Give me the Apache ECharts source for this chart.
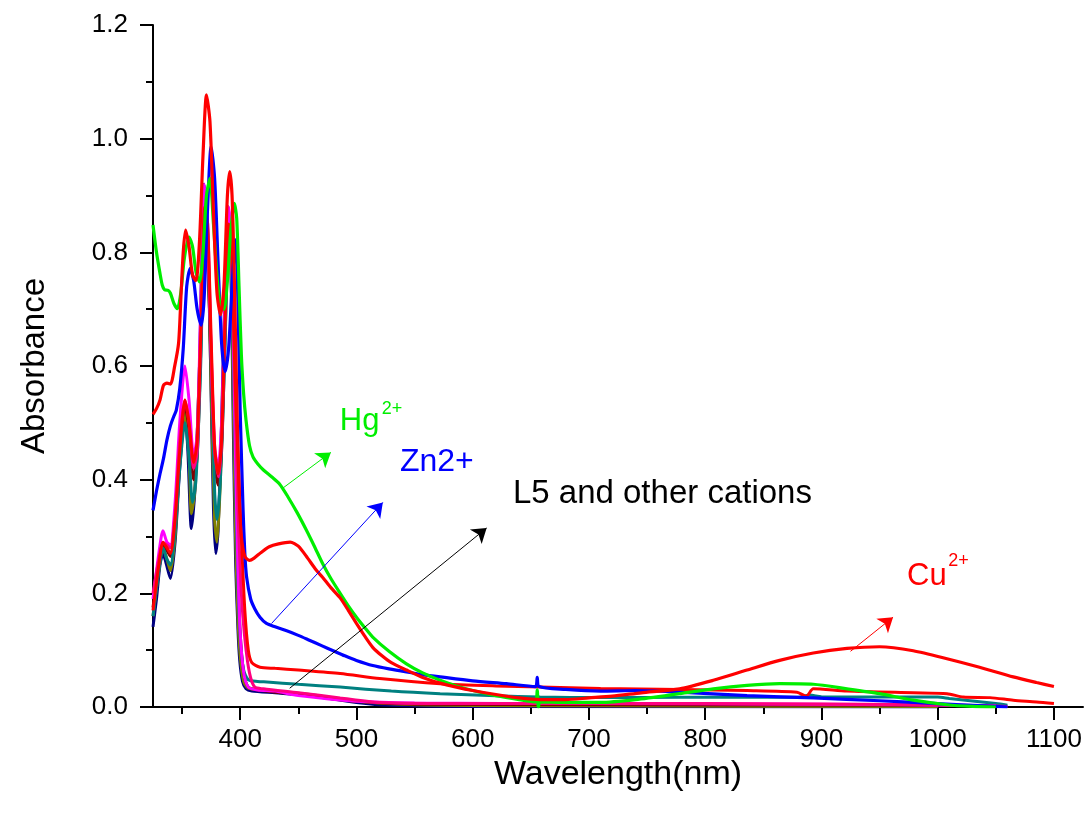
<!DOCTYPE html>
<html>
<head>
<meta charset="utf-8">
<title>Absorbance spectra</title>
<script src="https://cdn.jsdelivr.net/npm/echarts@6/dist/echarts.min.js"></script>
<style>
  html, body { margin: 0; padding: 0; background: #ffffff; }
  #chart { width: 1092px; height: 817px; }
</style>
</head>
<body>
<div id="chart"></div>
<script>
// Wavelength axis ticks (nm)
const xMajorTicks = [400, 500, 600, 700, 800, 900, 1000, 1100];
const xMinorTicks = [350, 450, 550, 650, 750, 850, 950, 1050];

// Spectra: [wavelength nm, absorbance]
const cuData = [
  [325,0.515],[328,0.525],[331,0.54],[334,0.566],[337,0.57],[340,0.568],[343.5,0.598],[347,0.64],
  [349,0.72],[351,0.8],[353,0.839],[356,0.81],[359,0.76],[362,0.75],[365,0.82],[368,0.97],
  [371,1.077],[374,1.03],[377,0.87],[380,0.73],[383,0.69],[386,0.74],[389,0.9],[391,0.942],
  [393,0.9],[395,0.75],[397,0.55],[399,0.38],[401,0.3],[404,0.265],[408,0.258],[412,0.262],
  [418,0.272],[425,0.282],[433,0.287],[443,0.29],[450,0.283],[458,0.262],[465,0.242],[471,0.228],
  [478,0.21],[486,0.192],[493,0.17],[500,0.147],[507,0.125],[514,0.105],[522,0.09],[530,0.078],
  [543,0.065],[557,0.052],[572,0.042],[586,0.035],[600,0.029],[620,0.022],[640,0.016],[658,0.013],
  [680,0.013],[700,0.016],[720,0.019],[745,0.025],[778,0.032],[807,0.047],[836,0.065],[864,0.082],
  [893,0.095],[922,0.103],[950,0.106],[979,0.099],[1008,0.085],[1036,0.07],[1065,0.053],[1085,0.043],
  [1100,0.036]
];
const hgData = [
  [325,0.848],[328,0.8],[331,0.763],[333,0.742],[335,0.734],[338,0.733],[340,0.728],[343,0.71],
  [346,0.701],[349,0.73],[352,0.79],[356,0.827],[359,0.81],[362,0.765],[365,0.748],[368,0.8],
  [371,0.9],[374,0.93],[377,0.85],[380,0.76],[383,0.705],[386,0.7],[389,0.75],[392,0.84],
  [395,0.886],[397,0.86],[399,0.74],[401,0.62],[403,0.55],[405,0.505],[408,0.46],[411,0.44],
  [415,0.428],[420,0.417],[427,0.405],[434,0.392],[441,0.37],[449,0.342],[457,0.311],[464,0.282],
  [471,0.252],[478,0.226],[486,0.2],[493,0.178],[500,0.158],[507,0.14],[514,0.123],[528,0.098],
  [543,0.076],[557,0.06],[572,0.047],[586,0.037],[600,0.029],[620,0.02],[640,0.013],[654,0.009],
  [655.5,0.03],[656.5,0.0],[658,0.009],[680,0.008],[710,0.008],[740,0.013],[778,0.0235],[807,0.032],
  [836,0.038],[864,0.041],[893,0.04],[922,0.032],[950,0.0235],[979,0.012],[1008,0.004],[1030,0.001],
  [1050,0.0]
];
const znData = [
  [325,0.346],[328,0.38],[331,0.41],[334,0.437],[337,0.47],[340,0.495],[343,0.512],[345,0.522],
  [348,0.56],[351,0.63],[354,0.74],[357,0.772],[360,0.75],[363,0.7],[366.5,0.672],[369,0.72],
  [372,0.88],[375,0.986],[378,0.93],[381,0.78],[384,0.64],[387,0.59],[390,0.63],[393,0.74],
  [396,0.822],[398,0.72],[400,0.52],[402.5,0.346],[404,0.27],[405.5,0.229],[409,0.19],[412.5,0.173],
  [417,0.158],[422.6,0.147],[430,0.141],[440,0.134],[450,0.126],[460,0.117],[470,0.108],[480,0.099],
  [490,0.09],[500,0.082],[514,0.073],[528,0.067],[543,0.0616],[557,0.057],[572,0.053],[600,0.046],
  [629,0.041],[654,0.036],[655.5,0.052],[657,0.036],[680,0.031],[710,0.028],[740,0.029],[778,0.026],
  [836,0.02],[893,0.016],[950,0.011],[1000,0.006],[1040,0.002],[1060,0.0]
];
const redData = [
  [325,0.17],[330,0.25],[333.6,0.29],[337,0.28],[340,0.27],[344,0.33],[348,0.45],[352.5,0.54],
  [356,0.5],[360,0.43],[363,0.47],[366,0.65],[369.5,0.88],[372,0.85],[375,0.65],[378,0.46],
  [381,0.41],[384,0.47],[387,0.68],[390,0.85],[392,0.84],[394,0.7],[396,0.55],[398,0.45],
  [401,0.3],[404,0.17],[407,0.1],[410,0.078],[417,0.07],[430,0.068],[450,0.065],[486,0.059],
  [520,0.05],[572,0.041],[620,0.037],[658,0.035],[710,0.0325],[778,0.031],[836,0.029],[879,0.026],
  [887,0.019],[893,0.032],[922,0.028],[979,0.025],[1008,0.0235],[1022,0.0176],[1045,0.0165],[1065,0.012],
  [1085,0.009],[1100,0.006]
];
const tealData = [
  [325,0.16],[330,0.24],[333.6,0.28],[337,0.26],[340,0.25],[344,0.31],[348,0.42],[352.5,0.5],
  [356,0.44],[359,0.36],[362,0.4],[366,0.6],[369.5,0.86],[372,0.82],[375,0.6],[378,0.38],
  [380,0.33],[383,0.4],[387,0.64],[390,0.83],[392,0.8],[394,0.62],[396,0.4],[398,0.22],
  [400,0.12],[403,0.065],[407,0.048],[415,0.045],[423,0.044],[450,0.04],[486,0.035],[530,0.028],
  [572,0.0235],[620,0.02],[658,0.0176],[710,0.0165],[778,0.017],[836,0.0176],[880,0.017],[890,0.021],
  [900,0.018],[950,0.0176],[1000,0.0176],[1010,0.015],[1030,0.0105],[1050,0.006],[1060,0.003]
];
const magentaData = [
  [325,0.19],[330,0.27],[333.6,0.31],[337,0.29],[340,0.285],[344,0.36],[348,0.5],[352.5,0.6],
  [356,0.54],[360,0.44],[363,0.48],[366,0.7],[369,0.92],[372,0.85],[375,0.63],[378,0.46],
  [381,0.42],[384,0.5],[387,0.72],[390,0.88],[392,0.84],[394,0.66],[396,0.44],[398,0.25],
  [400,0.13],[403,0.06],[407,0.035],[415,0.03],[430,0.028],[450,0.02],[500,0.01],[550,0.007],
  [700,0.006],[900,0.005],[1050,0.002]
];
const pinkData = [
  [325,0.2],[330,0.26],[333.6,0.29],[337,0.285],[340,0.28],[344,0.34],[348,0.47],[352.5,0.54],
  [356,0.5],[360,0.42],[363,0.45],[366,0.65],[369.5,0.87],[372,0.83],[375,0.62],[378,0.45],
  [381.5,0.405],[384,0.47],[387,0.68],[390,0.84],[392,0.83],[394,0.7],[396,0.52],[398,0.35],
  [401,0.2],[404,0.12],[408,0.06],[412.5,0.035],[420,0.032],[450,0.025],[486,0.016],[520,0.008],
  [600,0.006],[800,0.006],[1000,0.004],[1060,0.001]
];
const maroonData = [
  [325,0.175],[330,0.25],[333.6,0.285],[337,0.275],[340,0.265],[344,0.32],[348,0.45],[352.5,0.53],
  [356,0.49],[360,0.4],[363,0.44],[366,0.62],[369.5,0.85],[372,0.8],[375,0.6],[378,0.43],
  [381,0.39],[384,0.45],[387,0.65],[390,0.82],[392,0.8],[394,0.64],[396,0.42],[398,0.24],
  [400,0.13],[403,0.06],[407,0.035],[415,0.03],[450,0.022],[500,0.01],[550,0.005],[700,0.004],
  [1000,0.003]
];
const oliveData = [
  [325,0.16],[330,0.24],[333.6,0.28],[337,0.26],[340,0.24],[344,0.3],[348,0.43],[352.5,0.52],
  [356,0.44],[358,0.34],[361,0.38],[365,0.6],[369.5,0.88],[372,0.82],[375,0.56],[378,0.33],
  [380,0.29],[383,0.4],[387,0.68],[390,0.85],[392,0.78],[394,0.55],[396,0.3],[398,0.16],
  [400,0.09],[403,0.045],[407,0.033],[420,0.03],[460,0.022],[500,0.01],[550,0.004],[700,0.002],
  [1000,0.001]
];
const navyData = [
  [325,0.141],[328,0.19],[331,0.25],[333.6,0.27],[336,0.255],[340,0.226],[344,0.29],[348,0.42],
  [352.5,0.52],[355,0.45],[358,0.314],[361,0.38],[365,0.6],[369,0.92],[372,0.84],[375,0.55],
  [377,0.35],[379,0.27],[381,0.31],[384,0.5],[387,0.74],[390,0.88],[392,0.78],[394,0.5],
  [396,0.26],[398,0.14],[399.6,0.082],[402,0.045],[405,0.032],[410,0.028],[430,0.025],[460,0.02],
  [500,0.008],[530,0.003],[600,0.001],[1000,0.0]
];

// Arrows pointing at the labels, in data coordinates: [from, to]
const hgArrow = [[436.6, 0.385], [478, 0.448]];
const znArrow = [[427, 0.147], [522.7, 0.36]];
const l5Arrow = [[442.6, 0.033], [612, 0.315]];
const cuArrow = [[925, 0.098], [961.6, 0.158]];

// Annotation texts: anchor is left / vertical middle, in data coordinates
const notes = [
  { text: 'Hg', at: [485.7, 0.503], color: '#00ee00', size: 31 },
  { text: '2+', at: [521.8, 0.525], color: '#00ee00', size: 18 },
  { text: 'Zn2+', at: [537.4, 0.431], color: '#0000ff', size: 32 },
  { text: 'L5 and other cations', at: [634.6, 0.3745], color: '#000000', size: 33 },
  { text: 'Cu', at: [973.7, 0.23], color: '#ff0000', size: 31 },
  { text: '2+', at: [1009, 0.2565], color: '#ff0000', size: 18 }
];

const FONT = "'Liberation Sans', Arial, Helvetica, sans-serif";

function spectrum(name, data, color, z, width) {
  return {
    name: name,
    type: 'line',
    data: data,
    showSymbol: false,
    symbol: 'none',
    smooth: 0.25,
    z: z,
    lineStyle: { color: color, width: width },
    itemStyle: { color: color },
    emphasis: { disabled: true }
  };
}

function arrowLine(pair, color) {
  return [
    { coord: pair[0], lineStyle: { color: color, width: 1, type: 'solid' } },
    { coord: pair[1] }
  ];
}

const chart = echarts.init(document.getElementById('chart'), null, { renderer: 'canvas' });

const option = {
  animation: false,
  backgroundColor: '#ffffff',
  textStyle: { fontFamily: FONT },
  grid: { left: 153, right: 9, top: 25, bottom: 110, containLabel: false },
  xAxis: [
    {
      type: 'value',
      min: 325,
      max: 1125,
      name: 'Wavelength(nm)',
      nameLocation: 'middle',
      nameGap: 39,
      nameTextStyle: { color: '#000', fontSize: 34, fontFamily: FONT },
      axisLine: { show: true, onZero: false, lineStyle: { color: '#000', width: 2 } },
      axisTick: { show: true, inside: false, length: 13, customValues: xMajorTicks, lineStyle: { color: '#000', width: 2 } },
      axisLabel: { show: true, customValues: xMajorTicks, margin: 20, color: '#000', fontSize: 26, fontFamily: FONT, formatter: v => String(v) },
      splitLine: { show: false }
    },
    {
      type: 'value',
      min: 325,
      max: 1125,
      position: 'bottom',
      axisLine: { show: false },
      axisTick: { show: true, inside: false, length: 7, customValues: xMinorTicks, lineStyle: { color: '#000', width: 2 } },
      axisLabel: { show: false },
      splitLine: { show: false }
    }
  ],
  yAxis: {
    type: 'value',
    min: 0,
    max: 1.2,
    interval: 0.2,
    name: 'Absorbance',
    nameLocation: 'middle',
    nameGap: 102,
    nameTextStyle: { color: '#000', fontSize: 33, fontFamily: FONT },
    axisLine: { show: true, onZero: false, lineStyle: { color: '#000', width: 2 } },
    axisTick: { show: true, inside: false, length: 13, lineStyle: { color: '#000', width: 2 } },
    minorTick: { show: true, splitNumber: 2, length: 7, lineStyle: { color: '#000', width: 2 } },
    axisLabel: { margin: 25, color: '#000', fontSize: 26, fontFamily: FONT, formatter: v => v.toFixed(1) },
    splitLine: { show: false },
    minorSplitLine: { show: false }
  },
  series: [
    spectrum('L5', navyData, '#000080', 2, 3),
    spectrum('olive', oliveData, '#808000', 2, 3),
    spectrum('maroon', maroonData, '#800000', 2, 3),
    spectrum('teal', tealData, '#008080', 2, 3),
    spectrum('magenta', magentaData, '#ff00ff', 2, 3),
    spectrum('pink', pinkData, '#ff0080', 2, 3),
    spectrum('red', redData, '#ff0000', 2, 3),
    spectrum('Zn2+', znData, '#0000ff', 3, 3.2),
    spectrum('Hg2+', hgData, '#00ee00', 3, 3.2),
    spectrum('Cu2+', cuData, '#ff0000', 4, 3.2),
    {
      name: 'arrows',
      type: 'line',
      data: [],
      z: 5,
      markLine: {
        silent: true,
        animation: false,
        symbol: ['none', 'arrow'],
        symbolSize: 14,
        label: { show: false },
        emphasis: { disabled: true },
        data: [
          arrowLine(hgArrow, '#00ee00'),
          arrowLine(znArrow, '#0000ff'),
          arrowLine(l5Arrow, '#000000'),
          arrowLine(cuArrow, '#ff0000')
        ]
      }
    }
  ]
};

chart.setOption(option);

// Place the annotation texts from their data coordinates
const graphics = notes.map(n => {
  const p = chart.convertToPixel({ gridIndex: 0 }, n.at);
  return {
    type: 'text',
    x: p[0],
    y: p[1],
    z: 10,
    silent: true,
    style: {
      text: n.text,
      fill: n.color,
      font: n.size + 'px ' + FONT,
      textAlign: 'left',
      textVerticalAlign: 'middle'
    }
  };
});
chart.setOption({ graphic: graphics });
</script>
</body>
</html>
